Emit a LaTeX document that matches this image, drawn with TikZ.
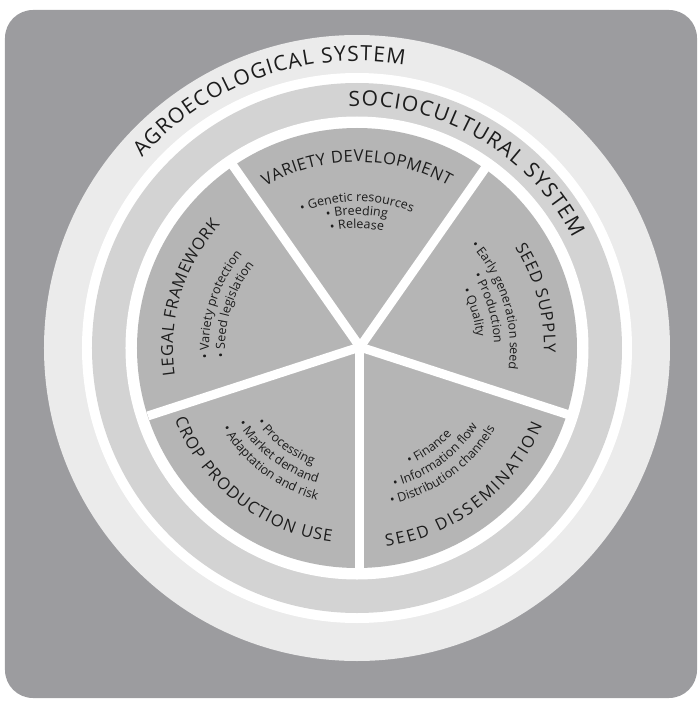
\documentclass[tikz,border=0pt]{standalone}
\usepackage{fontspec}
\setmainfont{Open Sans}
\usepackage{tikz}
\usetikzlibrary{decorations.text}

\definecolor{bggray}{RGB}{156,156,159}
\definecolor{ringlight}{RGB}{235,235,235}
\definecolor{ringmid}{RGB}{211,211,211}
\definecolor{piegray}{RGB}{181,181,181}
\definecolor{inkgray}{RGB}{28,28,28}

\newcommand{\ringfont}{\fontsize{21}{21}\selectfont}
\newcommand{\titlefont}{\fontsize{16.5}{16.5}\selectfont}
\newcommand{\itemfont}{\fontsize{12.5}{12.5}\selectfont}

\begin{document}
\begin{tikzpicture}[x=1pt, y=1pt,
    ringtext/.style={/utils/exec=\ringfont, decorate, decoration={text along path, text color=inkgray, text align={fit to path}, text={#1}}},
    titletext/.style={/utils/exec=\titlefont, decorate, decoration={text along path, text color=inkgray, text align={fit to path}, text={#1}}},
    itemtext/.style={/utils/exec=\itemfont, decorate, decoration={text along path, text color=inkgray, text align=center, text={#1}}}]
\useasboundingbox (-357,-354) rectangle (342,348);
\fill[bggray, rounded corners=28] (-352,-350) rectangle (340,338);

% rings
\coordinate (centre) at (0,0);
\fill[ringlight] (centre) circle[radius=313];
\fill[white] (centre) circle[radius=275];
\fill[ringmid] (centre) circle[radius=265];
\fill[white] (centre) circle[radius=231.5];
\fill[piegray] (centre) circle[radius=220];

% spokes
\coordinate (hub) at (3,1);
\foreach \a in {55,125,198,270,342}
    \draw[white, line width=9] (hub) -- ++(\a:223);

\path[ringtext={AGROECOLOGICAL SYSTEM}] (138.5:287) arc[start angle=138.5, end angle=80.5, radius=287];
\path[ringtext={SOCIOCULTURAL SYSTEM}] (92:242) arc[start angle=92, end angle=27, radius=242];

% sector titles
\path[titletext={VARIETY DEVELOPMENT}] (119.5:186) arc[start angle=119.5, end angle=60.5, radius=186];
\path[titletext={SEED SUPPLY}] (32.5:187) arc[start angle=32.5, end angle=-1.5, radius=187];
\path[titletext={LEGAL FRAMEWORK}] (188.5:184) arc[start angle=188.5, end angle=138, radius=184];
\path[titletext={CROP PRODUCTION USE}] (201.5:196) arc[start angle=201.5, end angle=262.5, radius=196];
\path[titletext={SEED DISSEMINATION}] (278.3:201) arc[start angle=278.3, end angle=337.3, radius=201];

% sector items
\path[itemtext={• Genetic resources}] (150:146.5) arc[start angle=150, end angle=30, radius=146.5];
\path[itemtext={• Breeding}] (150:133) arc[start angle=150, end angle=30, radius=133];
\path[itemtext={• Release}] (150:119.5) arc[start angle=150, end angle=30, radius=119.5];

\path[itemtext={• Early generation seed}] (77:153) arc[start angle=77, end angle=-43, radius=153];
\path[itemtext={• Production}] (77:137) arc[start angle=77, end angle=-43, radius=137];
\path[itemtext={• Quality}] (77:120) arc[start angle=77, end angle=-43, radius=120];

\path[itemtext={• Variety protection}] (222.5:148) arc[start angle=222.5, end angle=102.5, radius=148];
\path[itemtext={• Seed legislation}] (222.5:132) arc[start angle=222.5, end angle=102.5, radius=132];

\path[itemtext={• Processing}] (173:125) arc[start angle=173, end angle=293, radius=125];
\path[itemtext={• Market demand}] (173:141) arc[start angle=173, end angle=293, radius=141];
\path[itemtext={• Adaptation and risk}] (173:157) arc[start angle=173, end angle=293, radius=157];

\path[itemtext={• Finance}] (246:128) arc[start angle=246, end angle=366, radius=128];
\path[itemtext={• Information flow}] (246:144) arc[start angle=246, end angle=366, radius=144];
\path[itemtext={• Distribution channels}] (246:160) arc[start angle=246, end angle=366, radius=160];
\end{tikzpicture}
\end{document}
